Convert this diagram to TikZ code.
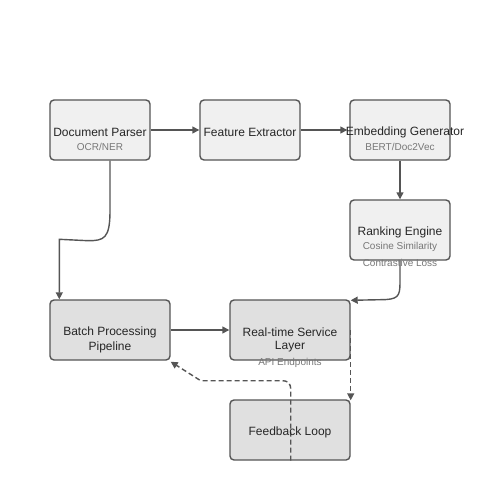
\documentclass[tikz,border=0pt]{standalone}
\usepackage{fontspec}
\setmainfont{Liberation Sans}
\usetikzlibrary{arrows.meta,calc}
\definecolor{edge}{HTML}{555555}
\definecolor{subc}{HTML}{777777}
\definecolor{lightf}{HTML}{F0F0F0}
\definecolor{darkf}{HTML}{E0E0E0}
\tikzset{
  box/.style={draw=edge, line width=1.4pt, rounded corners=4pt, minimum height=60pt, inner sep=0pt},
  topbox/.style={box, fill=lightf, minimum width=100pt},
  botbox/.style={box, fill=darkf, minimum width=120pt},
  ttl/.style={font=\fontsize{12}{14}\selectfont, text=black!85, inner sep=0pt},
  sub/.style={font=\fontsize{10}{12}\selectfont, text=subc, inner sep=0pt},
  conn/.style={draw=edge, line width=1.4pt, -{Triangle[length=7pt,width=7pt]}},
  dconn/.style={conn, dash pattern=on 5pt off 3pt},
}
\begin{document}
\begin{tikzpicture}[x=1pt,y=-1pt]
\useasboundingbox (0,0) rectangle (500,500);
% boxes
\node[topbox] (dp) at (100,130) {};
\node[topbox] (fe) at (250,130) {};
\node[topbox] (eg) at (400,130) {};
\node[topbox] (re) at (400,230) {};
\node[botbox] (bp) at (110,330) {};
\node[botbox] (rt) at (290,330) {};
\node[botbox] (fb) at (290,430) {};
% connectors
\draw[conn] (dp.east) -- (fe.west);
\draw[conn] (fe.east) -- ([xshift=-2pt]eg.west);
\draw[conn] (eg.south) -- (re.north);
\draw[conn] ([xshift=10pt]dp.south) -- ++(0,50) .. controls +(0,28) and +(16,0) .. ++(-22,30) -- ([xshift=10pt,yshift=60pt]bp.north west) -- ([xshift=10pt]bp.north west);
\draw[conn] (re.south) -- ++(0,22) .. controls +(0,14) and +(18,0) .. ++(-20,17) -- ([yshift=-1pt]rt.north east);
\draw[conn] (bp.east) -- (rt.west);
\draw[dconn] (rt.east) -- ([yshift=-1pt]fb.north east);
\draw[dconn] ([xshift=-60pt]fb.south east) -- ++(0,-70) .. controls +(0,-8) and +(8,0) .. ++(-10,-10) -- ++(-80,0) -- ([yshift=-1pt]bp.south east);
% texts
\node[ttl] (t1) at (100,132) {Document Parser};
\node[sub] (s1) at (100,147) {OCR/NER};
\node[ttl] (t2) at (250,132) {Feature Extractor};
\node[ttl] (t3) at (405,132) {Embedding Generator};
\node[sub] (s3) at (400,147) {BERT/Doc2Vec};
\node[ttl] (t4) at (400,232) {Ranking Engine};
\node[sub] (s4a) at (400,247) {Cosine Similarity};
\node[sub] (s4b) at (400,262.5) {Contrastive Loss};
\node[ttl] (t5) at (110,332) {Batch Processing};
\node[ttl] (t5b) at (110,347) {Pipeline};
\node[ttl] (t6) at (290,332) {Real-time Service};
\node[ttl] (t6b) at (290,347) {Layer};
\node[sub] (s6) at (290,362.5) {API Endpoints};
\node[ttl] (t7) at (290,432.5) {Feedback Loop};
\end{tikzpicture}
\end{document}
